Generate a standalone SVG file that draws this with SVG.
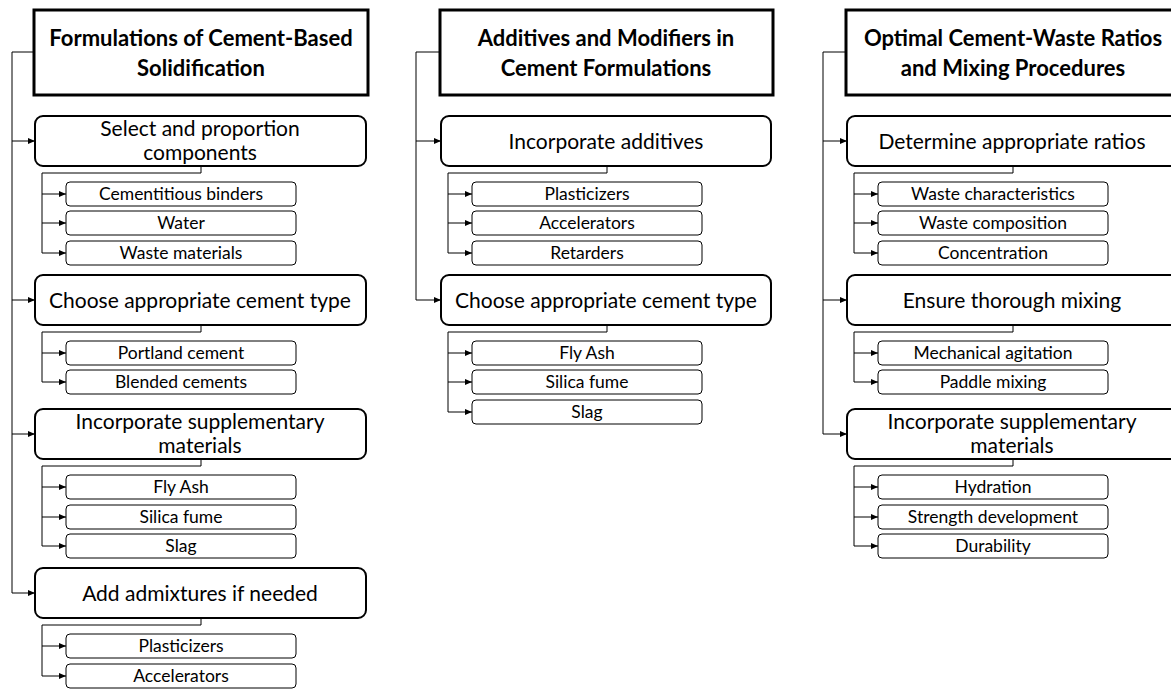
<svg xmlns="http://www.w3.org/2000/svg" width="1171" height="689" viewBox="0 0 1171 689">
<style>
.title{fill:#fff;stroke:#000;stroke-width:3}
.l1{fill:#fff;stroke:#000;stroke-width:2}
.l2{fill:#fff;stroke:#000;stroke-width:1}
.tt{font-family:Lato,"Open Sans",sans-serif;font-weight:bold;font-size:22px;text-anchor:middle;fill:#000}
.t1{font-family:Lato,"Open Sans",sans-serif;font-size:21px;text-anchor:middle;fill:#000}
.t2{font-family:Lato,"Open Sans",sans-serif;font-size:17.5px;text-anchor:middle;fill:#000}
.c{fill:none;stroke:#000;stroke-width:1}
</style>
<defs>
<marker id="a" markerWidth="7" markerHeight="6" refX="7" refY="3" orient="auto" markerUnits="userSpaceOnUse"><path d="M0,0 L7,3 L0,6 Z" fill="#000"/></marker>
</defs>
<rect width="1171" height="689" fill="#fff"/>
<g id="connectors">
<path class="c" d="M34,52 H12 V593"/>
<path class="c" d="M12,141 H35" marker-end="url(#a)"/>
<path class="c" d="M12,300 H35" marker-end="url(#a)"/>
<path class="c" d="M12,434 H35" marker-end="url(#a)"/>
<path class="c" d="M12,593 H35" marker-end="url(#a)"/>
<path class="c" d="M201,166 V173 H42 V253"/>
<path class="c" d="M42,194 H66" marker-end="url(#a)"/>
<path class="c" d="M42,223 H66" marker-end="url(#a)"/>
<path class="c" d="M42,253 H66" marker-end="url(#a)"/>
<path class="c" d="M201,325 V332 H42 V382"/>
<path class="c" d="M42,353 H66" marker-end="url(#a)"/>
<path class="c" d="M42,382 H66" marker-end="url(#a)"/>
<path class="c" d="M201,459 V466 H42 V546"/>
<path class="c" d="M42,487 H66" marker-end="url(#a)"/>
<path class="c" d="M42,517 H66" marker-end="url(#a)"/>
<path class="c" d="M42,546 H66" marker-end="url(#a)"/>
<path class="c" d="M201,618 V625 H42 V676"/>
<path class="c" d="M42,646 H66" marker-end="url(#a)"/>
<path class="c" d="M42,676 H66" marker-end="url(#a)"/>
<path class="c" d="M440,52 H416 V300"/>
<path class="c" d="M416,141 H441" marker-end="url(#a)"/>
<path class="c" d="M416,300 H441" marker-end="url(#a)"/>
<path class="c" d="M607,166 V173 H448 V253"/>
<path class="c" d="M448,194 H472" marker-end="url(#a)"/>
<path class="c" d="M448,223 H472" marker-end="url(#a)"/>
<path class="c" d="M448,253 H472" marker-end="url(#a)"/>
<path class="c" d="M607,325 V332 H448 V412"/>
<path class="c" d="M448,353 H472" marker-end="url(#a)"/>
<path class="c" d="M448,382 H472" marker-end="url(#a)"/>
<path class="c" d="M448,412 H472" marker-end="url(#a)"/>
<path class="c" d="M846,52 H823 V434"/>
<path class="c" d="M823,141 H847" marker-end="url(#a)"/>
<path class="c" d="M823,300 H847" marker-end="url(#a)"/>
<path class="c" d="M823,434 H847" marker-end="url(#a)"/>
<path class="c" d="M1013,166 V173 H854 V253"/>
<path class="c" d="M854,194 H878" marker-end="url(#a)"/>
<path class="c" d="M854,223 H878" marker-end="url(#a)"/>
<path class="c" d="M854,253 H878" marker-end="url(#a)"/>
<path class="c" d="M1013,325 V332 H854 V382"/>
<path class="c" d="M854,353 H878" marker-end="url(#a)"/>
<path class="c" d="M854,382 H878" marker-end="url(#a)"/>
<path class="c" d="M1013,459 V466 H854 V546"/>
<path class="c" d="M854,487 H878" marker-end="url(#a)"/>
<path class="c" d="M854,517 H878" marker-end="url(#a)"/>
<path class="c" d="M854,546 H878" marker-end="url(#a)"/>
</g>
<g id="c1-title"><rect class="title" x="34" y="10" width="334" height="85"/><text class="tt" x="201" y="46">Formulations of Cement-Based</text><text class="tt" x="201" y="76">Solidification</text></g>
<g id="c1-a"><rect class="l1" x="35" y="116" width="331" height="50" rx="8"/><text class="t1" x="200" y="136">Select and proportion</text><text class="t1" x="200" y="160">components</text></g>
<g id="c1-a1"><rect class="l2" x="66" y="182" width="230" height="24" rx="4"/><text class="t2" x="181" y="200">Cementitious binders</text></g>
<g id="c1-a2"><rect class="l2" x="66" y="211" width="230" height="24" rx="4"/><text class="t2" x="181" y="229">Water</text></g>
<g id="c1-a3"><rect class="l2" x="66" y="241" width="230" height="24" rx="4"/><text class="t2" x="181" y="259">Waste materials</text></g>
<g id="c1-b"><rect class="l1" x="35" y="275" width="331" height="50" rx="8"/><text class="t1" x="200" y="308">Choose appropriate cement type</text></g>
<g id="c1-b1"><rect class="l2" x="66" y="341" width="230" height="24" rx="4"/><text class="t2" x="181" y="359">Portland cement</text></g>
<g id="c1-b2"><rect class="l2" x="66" y="370" width="230" height="24" rx="4"/><text class="t2" x="181" y="388">Blended cements</text></g>
<g id="c1-c"><rect class="l1" x="35" y="409" width="331" height="50" rx="8"/><text class="t1" x="200" y="429">Incorporate supplementary</text><text class="t1" x="200" y="453">materials</text></g>
<g id="c1-c1"><rect class="l2" x="66" y="475" width="230" height="24" rx="4"/><text class="t2" x="181" y="493">Fly Ash</text></g>
<g id="c1-c2"><rect class="l2" x="66" y="505" width="230" height="24" rx="4"/><text class="t2" x="181" y="523">Silica fume</text></g>
<g id="c1-c3"><rect class="l2" x="66" y="534" width="230" height="24" rx="4"/><text class="t2" x="181" y="552">Slag</text></g>
<g id="c1-d"><rect class="l1" x="35" y="568" width="331" height="50" rx="8"/><text class="t1" x="200" y="601">Add admixtures if needed</text></g>
<g id="c1-d1"><rect class="l2" x="66" y="634" width="230" height="24" rx="4"/><text class="t2" x="181" y="652">Plasticizers</text></g>
<g id="c1-d2"><rect class="l2" x="66" y="664" width="230" height="24" rx="4"/><text class="t2" x="181" y="682">Accelerators</text></g>
<g id="c2-title"><rect class="title" x="440" y="10" width="333" height="85"/><text class="tt" x="606" y="46">Additives and Modifiers in</text><text class="tt" x="606" y="76">Cement Formulations</text></g>
<g id="c2-a"><rect class="l1" x="441" y="116" width="330" height="50" rx="8"/><text class="t1" x="606" y="149">Incorporate additives</text></g>
<g id="c2-a1"><rect class="l2" x="472" y="182" width="230" height="24" rx="4"/><text class="t2" x="587" y="200">Plasticizers</text></g>
<g id="c2-a2"><rect class="l2" x="472" y="211" width="230" height="24" rx="4"/><text class="t2" x="587" y="229">Accelerators</text></g>
<g id="c2-a3"><rect class="l2" x="472" y="241" width="230" height="24" rx="4"/><text class="t2" x="587" y="259">Retarders</text></g>
<g id="c2-b"><rect class="l1" x="441" y="275" width="330" height="50" rx="8"/><text class="t1" x="606" y="308">Choose appropriate cement type</text></g>
<g id="c2-b1"><rect class="l2" x="472" y="341" width="230" height="24" rx="4"/><text class="t2" x="587" y="359">Fly Ash</text></g>
<g id="c2-b2"><rect class="l2" x="472" y="370" width="230" height="24" rx="4"/><text class="t2" x="587" y="388">Silica fume</text></g>
<g id="c2-b3"><rect class="l2" x="472" y="400" width="230" height="24" rx="4"/><text class="t2" x="587" y="418">Slag</text></g>
<g id="c3-title"><rect class="title" x="846" y="10" width="334" height="85"/><text class="tt" x="1013" y="46">Optimal Cement-Waste Ratios</text><text class="tt" x="1013" y="76">and Mixing Procedures</text></g>
<g id="c3-a"><rect class="l1" x="847" y="116" width="331" height="50" rx="8"/><text class="t1" x="1012" y="149">Determine appropriate ratios</text></g>
<g id="c3-a1"><rect class="l2" x="878" y="182" width="230" height="24" rx="4"/><text class="t2" x="993" y="200">Waste characteristics</text></g>
<g id="c3-a2"><rect class="l2" x="878" y="211" width="230" height="24" rx="4"/><text class="t2" x="993" y="229">Waste composition</text></g>
<g id="c3-a3"><rect class="l2" x="878" y="241" width="230" height="24" rx="4"/><text class="t2" x="993" y="259">Concentration</text></g>
<g id="c3-b"><rect class="l1" x="847" y="275" width="331" height="50" rx="8"/><text class="t1" x="1012" y="308">Ensure thorough mixing</text></g>
<g id="c3-b1"><rect class="l2" x="878" y="341" width="230" height="24" rx="4"/><text class="t2" x="993" y="359">Mechanical agitation</text></g>
<g id="c3-b2"><rect class="l2" x="878" y="370" width="230" height="24" rx="4"/><text class="t2" x="993" y="388">Paddle mixing</text></g>
<g id="c3-c"><rect class="l1" x="847" y="409" width="331" height="50" rx="8"/><text class="t1" x="1012" y="429">Incorporate supplementary</text><text class="t1" x="1012" y="453">materials</text></g>
<g id="c3-c1"><rect class="l2" x="878" y="475" width="230" height="24" rx="4"/><text class="t2" x="993" y="493">Hydration</text></g>
<g id="c3-c2"><rect class="l2" x="878" y="505" width="230" height="24" rx="4"/><text class="t2" x="993" y="523">Strength development</text></g>
<g id="c3-c3"><rect class="l2" x="878" y="534" width="230" height="24" rx="4"/><text class="t2" x="993" y="552">Durability</text></g>
</svg>
